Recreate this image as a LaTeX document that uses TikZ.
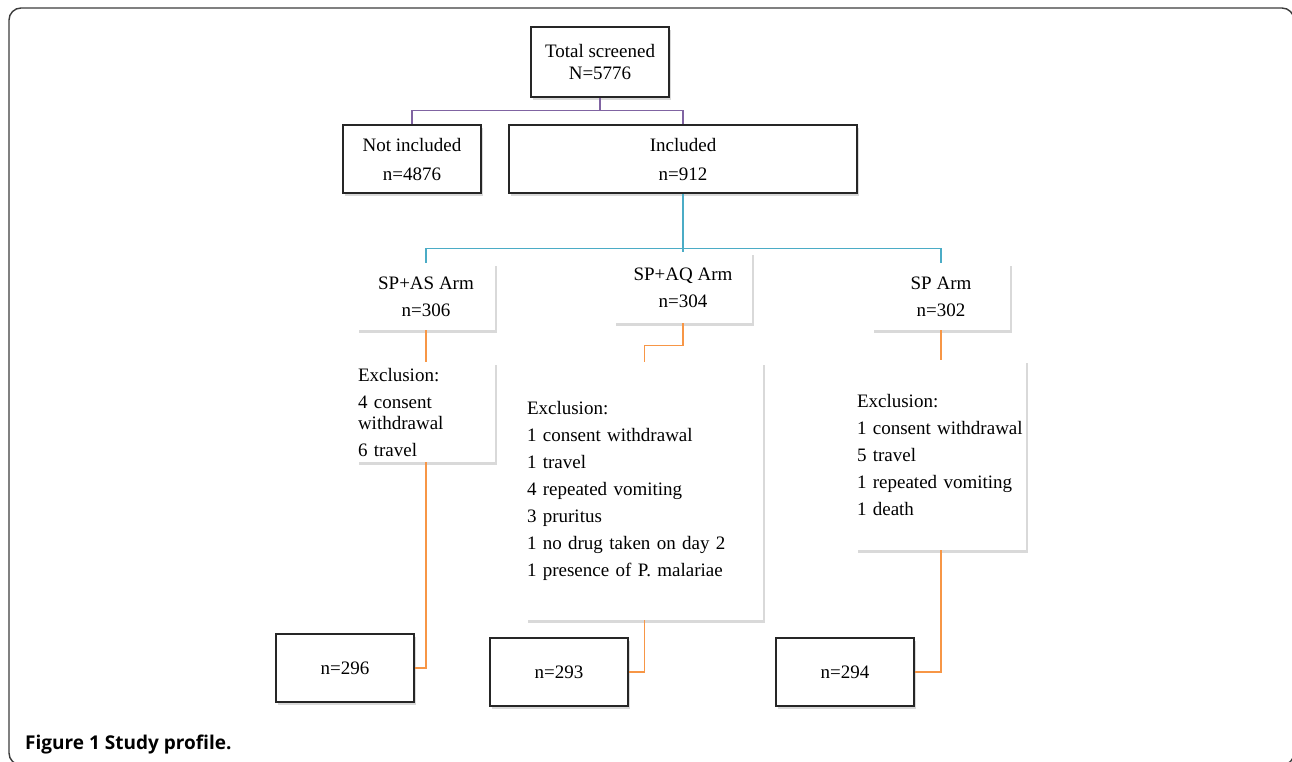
\documentclass[tikz,border=0pt]{standalone}
\usepackage{fontspec}
\setmainfont{Liberation Serif}
\newfontfamily\capfont{Open Sans}
\usetikzlibrary{positioning,calc,shadows}
\definecolor{lnpurple}{HTML}{8064A2}
\definecolor{lnblue}{HTML}{4BACC6}
\definecolor{lnorange}{HTML}{F79646}
\definecolor{framegray}{RGB}{60,60,60}
\tikzset{
  sbox/.style={draw=black!85, line width=1.5pt, fill=white, inner sep=0pt,
               minimum width=138pt, minimum height=68pt, align=center,
               drop shadow={shadow xshift=1.5pt, shadow yshift=-2.5pt, opacity=.3}},
  arm/.style={fill=white, inner sep=0pt, minimum width=138pt, align=center,
              drop shadow={shadow xshift=1.5pt, shadow yshift=-2.5pt, opacity=.3}},
  xbox/.style={fill=white, inner xsep=1pt, inner ysep=0pt, align=left,
               drop shadow={shadow xshift=1.5pt, shadow yshift=-2.5pt, opacity=.3}},
  purp/.style={lnpurple, line width=1.4pt},
  bl/.style={lnblue, line width=1.4pt},
  org/.style={lnorange, line width=1.4pt},
}

\begin{document}
\begin{tikzpicture}[x=1pt, y=-1pt, font=\fontsize{19}{21}\selectfont]
        \useasboundingbox (0,0) rectangle (1292,761);
        \draw[framegray, line width=1.4pt, rounded corners=12pt] (9,8) rectangle (1294,765);
        \node[sbox, minimum height=70pt, font=\fontsize{19}{22}\selectfont] (tot) at (600,62) {Total screened\\N=5776};
        \node[sbox] (ninc) at (412,159) {Not included\\[8pt]n=4876};
        \node[sbox, minimum width=348pt] (inc) at (683,159) {Included\\[8pt]n=912};
        \node[arm, minimum height=67pt] (as) at (426,296.5) {SP+AS Arm\\[6pt]n=306};
        \node[arm, minimum height=71pt] (aq) at (683,287.5) {SP+AQ Arm\\[6pt]n=304};
        \node[arm, minimum height=67pt] (sp) at (941,296.5) {SP Arm\\[6pt]n=302};
        \node[xbox, text width=136pt, minimum height=100pt] (asx) at (426,412)
          {Exclusion:\\[6pt]4 consent\\withdrawal\\[6pt]6 travel};
        \node[xbox, text width=235pt, minimum height=258pt] (aqx) at (644.5,491)
          {Exclusion:\\[6pt]1 consent withdrawal\\[6pt]1 travel\\[6pt]4 repeated vomiting\\[6pt]3 pruritus\\[6pt]1 no drug taken on day 2\\[6pt]1 presence of P. malariae};
        \node[xbox, text width=168pt, minimum height=190pt] (spx) at (941,455)
          {Exclusion:\\[6pt]1 consent withdrawal\\[6pt]5 travel\\[6pt]1 repeated vomiting\\[6pt]1 death};
        \node[sbox] (asn) at (345,668) {n=296};
        \node[sbox] (aqn) at (559,672) {n=293};
        \node[sbox] (spn) at (845,672) {n=294};
        \node[anchor=base west, inner sep=0pt, font=\capfont\fontsize{19}{21}\selectfont\bfseries] (cap) at (25,749) {Figure 1 Study profile.};
        \coordinate (pj) at ($(tot.south)+(0,13)$);
        \coordinate (bj) at ($(inc.south)+(0,55)$);
        \draw[purp] (tot.south) -- (pj);
        \draw[purp] (ninc.north) |- (pj) -| (inc.north);
        \draw[bl] (inc.south) -- (aq.north);
        \draw[bl] (as.north) |- (bj) -| (sp.north);
        \draw[org] (as.south) -- (asx.north);
        \draw[org] (aq.south) -- ++(0,22) -| (aqx.north);
        \draw[org] (sp.south) -- (spx.north);
        \draw[org] (asx.south) |- (asn.east);
        \draw[org] (aqx.south) |- (aqn.east);
        \draw[org] (spx.south) |- (spn.east);
      \end{tikzpicture}
\end{document}
